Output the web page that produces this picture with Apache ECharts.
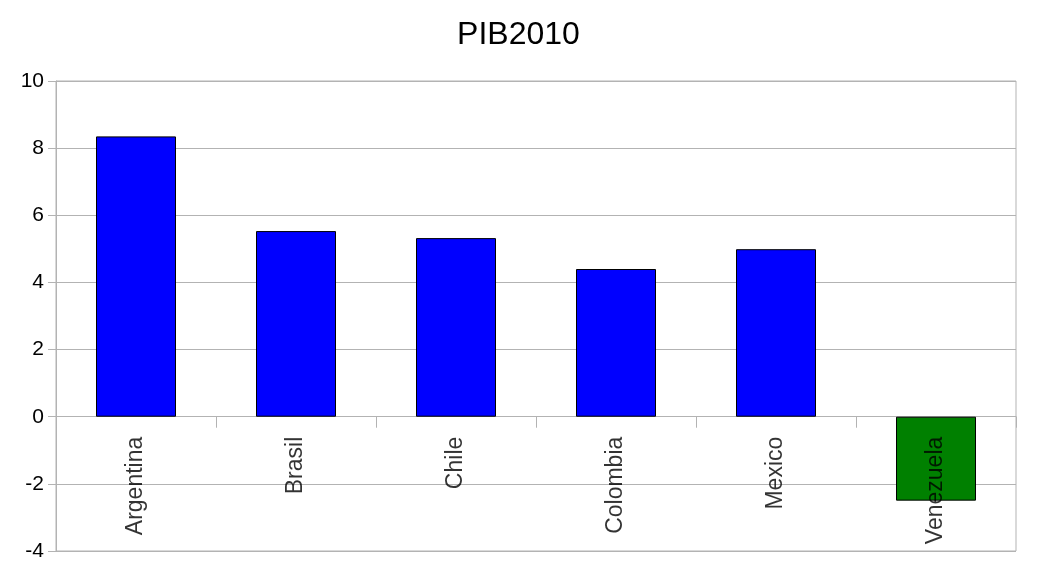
<!DOCTYPE html>
<html>
<head>
<meta charset="utf-8">
<script src="https://cdn.jsdelivr.net/npm/echarts@6/dist/echarts.min.js"></script>
<style>html,body{margin:0;padding:0;background:#fff}#c{width:1037px;height:584px}</style>
</head>
<body>
<div id="c"></div>
<script>
var titleText = 'PIB2010';
var categories = ['Argentina', 'Brasil', 'Chile', 'Colombia', 'Mexico', 'Venezuela'];
var values = [8.35, 5.53, 5.32, 4.40, 4.99, -2.50];
var barColors = ['#0000ff', '#0000ff', '#0000ff', '#0000ff', '#0000ff', '#008000'];
var yTicks = { min: -4, max: 10, interval: 2 };

var chart = echarts.init(document.getElementById('c'), null, { renderer: 'canvas' });
var font = '"Liberation Sans", Arial, sans-serif';
chart.setOption({
  animation: false,
  backgroundColor: '#ffffff',
  title: {
    text: titleText, left: 'center', top: 14,
    textStyle: { fontFamily: font, fontSize: 32, fontWeight: 'normal', color: '#000' }
  },
  grid: {
    left: 56, right: 21, top: 81, bottom: 33, show: true,
    outerBoundsMode: 'none', containLabel: false,
    borderColor: '#b3b3b3', borderWidth: 1, backgroundColor: 'transparent'
  },
  xAxis: {
    type: 'category', data: categories,
    axisLine: { onZero: true, lineStyle: { color: '#b3b3b3' } },
    axisTick: { show: true, length: 11, alignWithLabel: false, lineStyle: { color: '#b3b3b3' } },
    axisLabel: { show: false },
    splitLine: { show: false }
  },
  yAxis: {
    type: 'value', min: yTicks.min, max: yTicks.max, interval: yTicks.interval,
    axisLine: { show: true, lineStyle: { color: '#b3b3b3' } },
    axisTick: { show: true, length: 8, lineStyle: { color: '#b3b3b3' } },
    axisLabel: { margin: 12, fontFamily: font, fontSize: 21, color: '#000' },
    splitLine: { show: true, lineStyle: { color: '#b3b3b3', width: 1 } }
  },
  series: [{
    type: 'bar', barWidth: '50%', z: 2,
    data: values.map(function (v, i) {
      return { value: v, itemStyle: { color: barColors[i], borderColor: '#000', borderWidth: 1 } };
    })
  }, {
    type: 'scatter', symbolSize: 0, z: 5, silent: true,
    data: categories.map(function (c) { return [c, 0]; }),
    label: {
      show: true, position: 'bottom', distance: 20, rotate: 90,
      align: 'right', verticalAlign: 'middle',
      fontFamily: font, fontSize: 23, color: '#000',
      formatter: function (p) { return p.value[0]; }
    }
  }]
});
</script>
</body>
</html>
